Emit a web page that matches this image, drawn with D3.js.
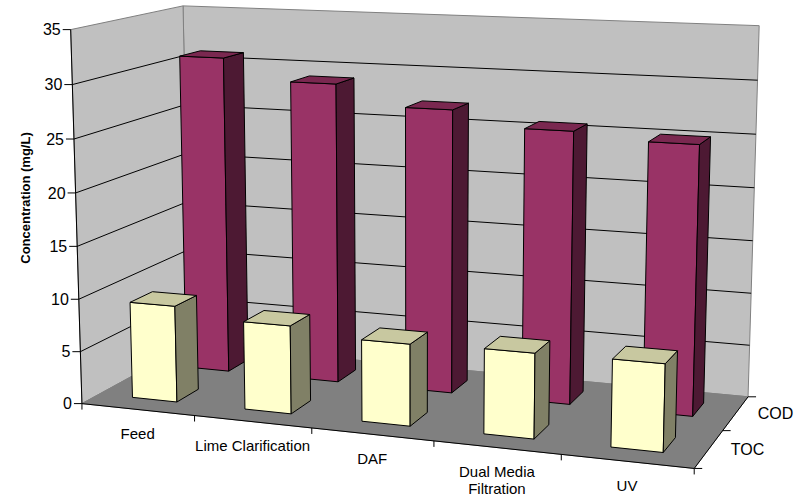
<!DOCTYPE html>
<html>
<head>
<meta charset="utf-8">
<script src="https://cdn.jsdelivr.net/npm/d3@7"></script>
<style>
  html, body { margin: 0; padding: 0; background: #ffffff; }
  svg { display: block; font-family: Arial, "Liberation Sans", Helvetica, sans-serif; }
</style>
</head>
<body>
<svg id="chart" width="796" height="501"></svg>
<script>
// ---- Data ----
const categories = ["Feed", "Lime Clarification", "DAF", "Dual Media Filtration", "UV"];
const seriesNames = ["TOC", "COD"];          // front row, back row
const tocValues = [9.2, 8.3, 7.6, 7.8, 7.9];
const codValues = [31.0, 29.0, 27.1, 25.7, 25.1];
const valueTicks = [0, 5, 10, 15, 20, 25, 30, 35];
const valueMax = 35;
const yTitle = "Concentration (mg/L)";

// ---- Perspective of the 3D plot box ----
// Each anchor: [x (0..1 along categories), value, z (0 front .. 1 back), screenX, screenY]
const anchors = [
  [0, 0, 0, 82, 402], [0, 10, 0, 79, 297], [0, 20, 0, 76, 192], [0, 35, 0, 71, 29],
  [0.2, 0, 0, 195, 417], [0.4, 0, 0, 312, 430], [0.6, 0, 0, 433, 443], [0.8, 0, 0, 562, 457],
  [1, 0, 0, 693, 466], [1, 0, 0.5, 722, 430], [1, 0, 1, 749, 395],
  [0, 30, 1, 183, 57], [0, 35, 1, 183, 6],
  [1, 15, 1, 753, 241], [1, 30, 1, 757, 80], [1, 35, 1, 760, 26]
];

const yScale = d3.scaleLinear().domain([0, valueMax]).range([0, 1]);
const xBand = d3.scaleBand().domain(categories).range([0, 1]).paddingInner(0.6).paddingOuter(0.3);
const zBand = d3.scaleBand().domain(seriesNames).range([0, 1]).paddingInner(0.6).paddingOuter(0.3);

// Least-squares fit of a 3x4 projective camera (last entry fixed to 1)
function fitCamera(pts) {
  const n = 11;
  const N = Array.from({ length: n }, () => new Array(n).fill(0));
  const r = new Array(n).fill(0);
  function addRow(row, b) {
    for (let i = 0; i < n; i++) {
      r[i] += row[i] * b;
      for (let j = 0; j < n; j++) N[i][j] += row[i] * row[j];
    }
  }
  pts.forEach(([X, V, Z, u, v]) => {
    const Y = yScale(V);
    addRow([X, Y, Z, 1, 0, 0, 0, 0, -u * X, -u * Y, -u * Z], u);
    addRow([0, 0, 0, 0, X, Y, Z, 1, -v * X, -v * Y, -v * Z], v);
  });
  // Gaussian elimination with partial pivoting
  for (let c = 0; c < n; c++) {
    let p = c;
    for (let i = c + 1; i < n; i++) if (Math.abs(N[i][c]) > Math.abs(N[p][c])) p = i;
    [N[c], N[p]] = [N[p], N[c]];
    [r[c], r[p]] = [r[p], r[c]];
    for (let i = c + 1; i < n; i++) {
      const f = N[i][c] / N[c][c];
      for (let j = c; j < n; j++) N[i][j] -= f * N[c][j];
      r[i] -= f * r[c];
    }
  }
  const p = new Array(n).fill(0);
  for (let i = n - 1; i >= 0; i--) {
    let s = r[i];
    for (let j = i + 1; j < n; j++) s -= N[i][j] * p[j];
    p[i] = s / N[i][i];
  }
  return p;
}
const cam = fitCamera(anchors);
function project(x, y, z) {
  const w = cam[8] * x + cam[9] * y + cam[10] * z + 1;
  return [
    (cam[0] * x + cam[1] * y + cam[2] * z + cam[3]) / w,
    (cam[4] * x + cam[5] * y + cam[6] * z + cam[7]) / w
  ];
}
const poly = pts => "M" + pts.map(p => project(...p).map(d => d.toFixed(2)).join(",")).join("L") + "Z";
const seg = (a, b) => "M" + project(...a).join(",") + "L" + project(...b).join(",");

const svg = d3.select("#chart");

// ---- Walls and floor ----
const walls = svg.append("g");
walls.append("path")
  .attr("d", poly([[0, 0, 1], [1, 0, 1], [1, 1, 1], [0, 1, 1]]))
  .attr("fill", "#c0c0c0").attr("stroke", "#808080").attr("stroke-width", 1);
walls.append("path")
  .attr("d", poly([[0, 0, 0], [0, 0, 1], [0, 1, 1], [0, 1, 0]]))
  .attr("fill", "#c0c0c0").attr("stroke", "#808080").attr("stroke-width", 1);
walls.append("path")
  .attr("d", poly([[0, 0, 0], [1, 0, 0], [1, 0, 1], [0, 0, 1]]))
  .attr("fill", "#808080").attr("stroke", "#808080").attr("stroke-width", 1);

// Gridlines on the side and back walls
const grid = svg.append("g").attr("stroke", "#000").attr("stroke-width", 1).attr("fill", "none");
valueTicks.filter(v => v > 0 && v < valueMax).forEach(v => {
  const y = yScale(v);
  grid.append("path").attr("d", seg([0, y, 0], [0, y, 1]) + seg([0, y, 1], [1, y, 1]));
});

// ---- Axes ----
const axes = svg.append("g").attr("stroke", "#000").attr("stroke-width", 1).attr("fill", "none");
// value axis
axes.append("path").attr("d", seg([0, 0, 0], [0, 1, 0]));
// category axis
axes.append("path").attr("d", seg([0, 0, 0], [1, 0, 0]));
// depth axis
axes.append("path").attr("d", seg([1, 0, 0], [1, 0, 1]));

const labels = svg.append("g").attr("fill", "#000");

valueTicks.forEach(v => {
  const [px, py] = project(0, yScale(v), 0);
  axes.append("path").attr("d", `M${px - 8},${py}H${px}`);
  labels.append("text")
    .attr("x", px - 10).attr("y", py).attr("dy", "0.36em")
    .attr("text-anchor", "end").attr("font-size", 16)
    .text(v);
});

d3.range(categories.length + 1).forEach(i => {
  const [px, py] = project(i * xBand.step(), 0, 0);
  axes.append("path").attr("d", `M${px},${py}V${py + 6}`);
});

[0, 0.5, 1].forEach(z => {
  const [px, py] = project(1, 0, z);
  axes.append("path").attr("d", `M${px},${py}H${px + 8}`);
});

// category labels, wrapped to the width of their slot
categories.forEach((c, i) => {
  const x0 = i * xBand.step(), x1 = (i + 1) * xBand.step();
  const maxW = project(x1, 0, 0)[0] - project(x0, 0, 0)[0];
  const [cx, cy] = project(xBand(c) + xBand.bandwidth() / 2, 0, 0);
  const t = labels.append("text")
    .attr("x", cx).attr("y", cy + 24)
    .attr("text-anchor", "middle").attr("font-size", 15);
  const words = c.split(" ");
  let line = [];
  let tspan = t.append("tspan").attr("x", cx).attr("dy", "0.36em");
  words.forEach(w => {
    line.push(w);
    tspan.text(line.join(" "));
    if (tspan.node().getComputedTextLength() > maxW && line.length > 1) {
      line.pop();
      tspan.text(line.join(" "));
      line = [w];
      tspan = t.append("tspan").attr("x", cx).attr("dy", "17").text(w);
    }
  });
});

// series labels along the depth axis
seriesNames.forEach(s => {
  const [px, py] = project(1, 0, zBand(s) + zBand.bandwidth() / 2);
  labels.append("text")
    .attr("x", px + 22).attr("y", py).attr("dy", "0.36em")
    .attr("font-size", 16)
    .text(s);
});

// axis title
const titlePos = [25, 198];
labels.append("text")
  .attr("transform", `translate(${titlePos[0]},${titlePos[1]}) rotate(-90)`)
  .attr("text-anchor", "middle").attr("dy", "0.36em")
  .attr("font-size", 13).attr("font-weight", "bold")
  .text(yTitle);

// ---- Columns ----
const seriesStyle = {
  TOC: { front: "#ffffcc", side: "#808066", top: "#c8c8a0" },
  COD: { front: "#993366", side: "#4d1933", top: "#7a2850" }
};
const seriesValues = { TOC: tocValues, COD: codValues };

const bars = svg.append("g").attr("stroke", "#000").attr("stroke-width", 1).attr("stroke-linejoin", "round");
// back row first, then the front row; left to right within a row
["COD", "TOC"].forEach(s => {
  const z0 = zBand(s), z1 = z0 + zBand.bandwidth();
  categories.forEach((c, i) => {
    const x0 = xBand(c), x1 = x0 + xBand.bandwidth();
    const h = yScale(seriesValues[s][i]);
    const g = bars.append("g");
    g.append("path").attr("fill", seriesStyle[s].front)
      .attr("d", poly([[x0, 0, z0], [x1, 0, z0], [x1, h, z0], [x0, h, z0]]));
    g.append("path").attr("fill", seriesStyle[s].side)
      .attr("d", poly([[x1, 0, z0], [x1, 0, z1], [x1, h, z1], [x1, h, z0]]));
    g.append("path").attr("fill", seriesStyle[s].top)
      .attr("d", poly([[x0, h, z0], [x1, h, z0], [x1, h, z1], [x0, h, z1]]));
  });
});
</script>
</body>
</html>
